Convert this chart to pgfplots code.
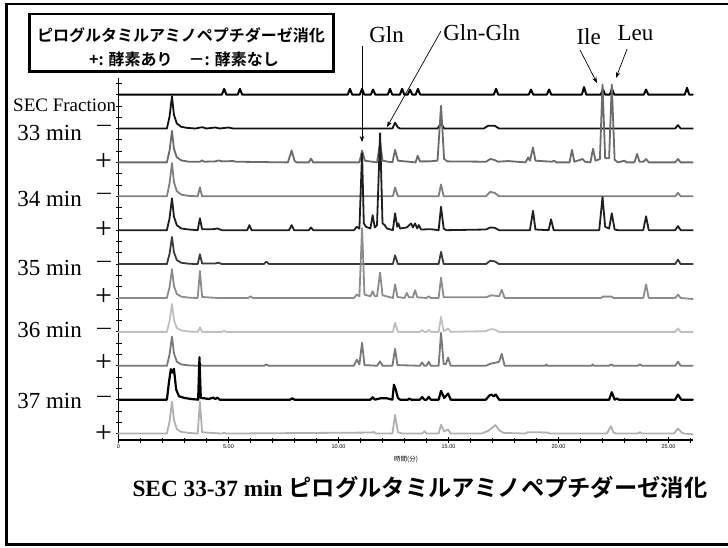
\documentclass[border=0pt]{standalone}
\usepackage{fontspec}
\usepackage{graphicx}
\setmainfont{Liberation Serif}
\newfontfamily\cjk{Noto Sans CJK JP}[BoldFont={* Bold}]
\newfontfamily\tickfont{Liberation Sans}
\usepackage{pgfplots}
\pgfplotsset{compat=1.18}
\usetikzlibrary{arrows.meta}

\definecolor{cstd}{HTML}{000000}
\definecolor{cAm}{HTML}{111111}
\definecolor{cAp}{HTML}{6B6B6B}
\definecolor{cBm}{HTML}{7F7F7F}
\definecolor{cBp}{HTML}{1E1E1E}
\definecolor{cCm}{HTML}{3A3A3A}
\definecolor{cCp}{HTML}{8C8C8C}
\definecolor{cDm}{HTML}{BFBFBF}
\definecolor{cDp}{HTML}{787878}
\definecolor{cEm}{HTML}{000000}
\definecolor{cEp}{HTML}{B0B0B0}

\begin{document}
\begin{tikzpicture}
\path[use as bounding box] (0pt,0pt) rectangle (728pt,547pt);

% outer frame
\draw[line width=2.6pt] (732pt,543pt) -- (6.7pt,543pt) -- (6.7pt,2.5pt) -- (732pt,2.5pt);

% legend box
\draw[line width=2.4pt] (29.3pt,533pt) rectangle (333.3pt,475.3pt);
\node[font=\cjk\bfseries\fontsize{16}{16}\selectfont] at (181pt,512pt) {ピログルタミルアミノペプチダーゼ消化};
\node[font=\cjk\bfseries\fontsize{16}{16}\selectfont] at (184pt,488pt) {+: 酵素あり　－: 酵素なし};

\begin{axis}[
  at={(118.5pt,107pt)}, anchor=south west,
  scale only axis, width=574.2pt, height=362pt,
  xmin=0, xmax=26.1, ymin=-0.19, ymax=10.49,
  axis x line=bottom, axis y line=left,
  axis line style={line width=1.2pt, -},
  xtick={0,5,...,25},
  xticklabels={0,5.00,10.00,15.00,20.00,25.00},
  minor xtick={1,2,3,4,6,7,8,9,11,12,13,14,16,17,18,19,21,22,23,24,26},
  ytick={0,0.33333,...,10.4}, yticklabels={},
  tick align=center,
  major tick length=6pt, minor tick length=5pt,
  tick style={black, line width=0.8pt},
  xticklabel style={font=\tickfont\fontsize{5.5}{6}\selectfont, inner sep=1pt},
  clip=false,
  every axis plot/.append style={mark=none, line join=round, line cap=round, line width=1.8pt},
]

% standard mixture
\addplot[cstd, line width=2pt, y filter/.expression={y+10}] coordinates {
(0,0)(4.7,0)(4.8,0.17)(4.9,0)(5.42,0)(5.52,0.17)(5.62,0)(10.42,0)(10.52,0.17)(10.62,0)(10.97,0)(11.07,0.17)(11.17,0)(11.47,0)(11.57,0.15)(11.67,0)(12.24,0)(12.34,0.17)(12.44,0)(12.79,0)(12.89,0.17)(12.99,0)(13.15,0)(13.25,0.15)(13.35,0)(13.51,0)(13.61,0.17)(13.71,0)(17.06,0)(17.16,0.17)(17.26,0)(18.65,0)(18.75,0.15)(18.85,0)(19.47,0)(19.57,0.15)(19.67,0)(21.06,0)(21.16,0.22)(21.26,0)(21.92,0)(22.02,0.15)(22.12,0)(22.33,0)(22.43,0.17)(22.53,0)(23.88,0)(23.98,0.15)(24.08,0)(25.74,0)(25.84,0.2)(25.94,0)(26.1,0)};

% 33 min, no enzyme
\addplot[cAm, y filter/.expression={y+9}] coordinates {
(0,0)(2.2,0)(2.32,0.35)(2.43,0.95)(2.52,0.4)(2.65,0.15)(2.85,0.05)(3.1,0.02)(3.5,0)(3.8,0.04)(4.0,0)(4.4,0.03)(4.6,0)(5.0,0.03)(5.2,0)(12.45,0)(12.57,0.17)(12.7,0.03)(12.8,0)(14.5,0)(14.66,0.15)(14.8,0)(16.6,0)(16.8,0.08)(17.1,0.08)(17.3,0)(25.3,0)(25.43,0.1)(25.55,0)(26.1,0)};

% 33 min, enzyme
\addplot[cAp, y filter/.expression={y+8}] coordinates {
(0,0)(2.2,0)(2.32,0.35)(2.43,0.93)(2.52,0.4)(2.65,0.15)(2.85,0.06)(3.2,0.02)(3.7,0.02)(3.8,0.06)(3.9,0.02)(4.4,0.03)(4.55,0.06)(4.7,0.03)(5.2,0.04)(5.35,0.02)(7.7,0)(7.87,0.35)(8.0,0.05)(8.1,0)(8.65,0)(8.75,0.11)(8.85,0)(10.95,0)(11.07,0.35)(11.2,0.05)(11.75,0)(11.89,0.6)(12.0,0.05)(12.45,0)(12.57,0.37)(12.7,0.05)(13.5,0)(13.6,0.2)(13.7,0.03)(14.1,0.03)(14.5,0.05)(14.66,1.67)(14.8,0.1)(14.95,0.03)(16.7,0.02)(16.9,0.1)(17.1,0.07)(17.25,0.02)(17.7,0.04)(18.5,0)(18.62,0.15)(18.7,0.05)(18.84,0.44)(18.95,0.05)(19.7,0.02)(19.8,0.05)(19.9,0)(20.5,0)(20.61,0.37)(20.72,0.02)(21.1,0.1)(21.2,0.02)(21.45,0)(21.57,0.4)(21.68,0.05)(21.88,0.1)(22.0,2.3)(22.12,0.12)(22.3,0.12)(22.42,2.3)(22.55,0.08)(22.7,0)(23.0,0.05)(23.1,0)(23.45,0)(23.57,0.25)(23.68,0.02)(23.85,0.02)(23.98,0.1)(24.1,0)(25.3,0)(25.43,0.1)(25.55,0)(26.1,0)};

% 34 min, no enzyme
\addplot[cBm, y filter/.expression={y+7}] coordinates {
(0,0)(2.2,0)(2.32,0.38)(2.43,0.98)(2.52,0.42)(2.65,0.15)(2.85,0.05)(3.2,0.01)(3.6,0)(3.7,0.26)(3.8,0)(12.47,0)(12.57,0.26)(12.7,0)(14.55,0)(14.66,0.35)(14.78,0)(16.7,0)(16.9,0.13)(17.1,0.1)(17.3,0)(25.3,0)(25.43,0.1)(25.55,0)(26.1,0)};

% 34 min, enzyme
\addplot[cBp, y filter/.expression={y+6}] coordinates {
(0,0)(2.2,0)(2.32,0.35)(2.43,0.94)(2.52,0.4)(2.65,0.15)(2.85,0.05)(3.2,0.02)(3.6,0)(3.7,0.35)(3.8,0.03)(4.3,0.03)(4.5,0.05)(4.7,0)(5.85,0)(5.95,0.15)(6.05,0)(7.75,0)(7.87,0.15)(7.98,0)(8.65,0)(8.75,0.08)(8.85,0)(10.7,0)(10.83,0.1)(10.95,0.05)(11.07,2.27)(11.15,0.2)(11.25,0.1)(11.45,0.05)(11.55,0.44)(11.65,0.08)(11.75,0.15)(11.89,2.86)(12.0,0.2)(12.1,0.15)(12.2,0.05)(12.47,0)(12.57,0.5)(12.67,0.1)(12.72,0.2)(12.8,0.05)(13.1,0.08)(13.3,0.2)(13.38,0.08)(13.48,0.2)(13.58,0.05)(13.65,0.15)(13.75,0.02)(14.2,0.03)(14.55,0)(14.66,0.69)(14.78,0.05)(14.9,0)(16.7,0.02)(16.9,0.08)(17.1,0.07)(17.3,0)(18.7,0)(18.84,0.57)(18.95,0.02)(19.55,0)(19.66,0.32)(19.78,0)(21.85,0)(22.0,0.98)(22.12,0.1)(22.3,0.05)(22.42,0.5)(22.55,0.02)(22.7,0)(23.85,0)(23.98,0.41)(24.1,0)(25.3,0)(25.43,0.12)(25.55,0)(26.1,0)};

% 35 min, no enzyme
\addplot[cCm, y filter/.expression={y+5}] coordinates {
(0,0)(2.2,0)(2.32,0.3)(2.43,0.8)(2.52,0.35)(2.65,0.12)(2.85,0.04)(3.2,0.01)(3.6,0)(3.7,0.29)(3.8,0.02)(4.4,0.02)(4.55,0.04)(4.7,0)(6.6,0)(6.72,0.07)(6.85,0)(12.47,0)(12.57,0.26)(12.7,0)(14.55,0)(14.66,0.36)(14.78,0)(16.7,0)(16.9,0.1)(17.1,0.08)(17.3,0)(25.3,0)(25.43,0.13)(25.55,0)(26.1,0)};

% 35 min, enzyme
\addplot[cCp, y filter/.expression={y+4}] coordinates {
(0,0)(2.2,0)(2.32,0.32)(2.43,0.85)(2.52,0.35)(2.65,0.12)(2.85,0.04)(3.2,0.01)(3.6,0)(3.7,0.8)(3.8,0.03)(4.5,0)(5.9,0)(6.0,0.05)(6.1,0)(10.7,0)(10.83,0.1)(10.95,0.05)(11.07,2.06)(11.18,0.1)(11.45,0.05)(11.55,0.2)(11.65,0.05)(11.75,0.05)(11.89,0.75)(12.0,0.08)(12.47,0)(12.57,0.4)(12.68,0.03)(13.0,0)(13.1,0.15)(13.2,0.02)(13.38,0.02)(13.48,0.23)(13.58,0.02)(14.0,0)(14.1,0.05)(14.2,0)(14.55,0)(14.66,0.6)(14.78,0.02)(16.7,0.02)(16.95,0.08)(17.3,0.05)(17.42,0.24)(17.55,0)(21.95,0)(22.0,0.04)(22.42,0.04)(22.5,0)(23.85,0)(23.98,0.4)(24.1,0)(25.3,0)(25.43,0.1)(25.55,0)(26.1,-0.03)};

% 36 min, no enzyme
\addplot[cDm, y filter/.expression={y+3}] coordinates {
(0,0)(2.2,0)(2.32,0.32)(2.43,0.82)(2.52,0.35)(2.65,0.12)(2.85,0.04)(3.2,0.01)(3.6,0)(3.7,0.13)(3.8,0)(4.7,0)(4.8,0.03)(4.9,0)(12.47,0)(12.57,0.27)(12.7,0)(13.7,0)(13.8,0.05)(13.9,0)(14.0,0)(14.1,0.05)(14.2,0)(14.55,0)(14.66,0.44)(14.78,0.02)(14.98,0.1)(15.1,0)(16.7,0.02)(16.9,0.08)(17.1,0.07)(17.3,0)(25.3,0)(25.43,0.1)(25.55,0)(26.1,0)};

% 36 min, enzyme
\addplot[cDp, y filter/.expression={y+2}] coordinates {
(0,0)(2.2,0)(2.32,0.33)(2.43,0.86)(2.52,0.37)(2.65,0.12)(2.85,0.04)(3.2,0.01)(3.6,0)(3.7,0.05)(3.8,0)(6.62,0)(6.72,0.04)(6.82,0)(10.7,0)(10.83,0.18)(10.95,0.04)(11.07,0.68)(11.18,0.02)(11.75,0)(11.89,0.13)(12.0,0)(12.45,0)(12.57,0.5)(12.68,0.02)(13.7,0)(13.8,0.1)(13.9,0)(14.0,0)(14.1,0.12)(14.2,0)(14.55,0)(14.66,0.97)(14.78,0.05)(14.88,0.05)(14.98,0.24)(15.1,0)(16.7,0)(16.9,0.06)(17.2,0.1)(17.3,0.12)(17.42,0.35)(17.55,0)(19.4,0)(19.45,0.04)(19.5,0)(21.5,0)(21.55,0.04)(21.6,0)(22.3,0)(22.4,0.04)(22.5,0)(23.6,0)(23.7,0.04)(23.8,0)(25.3,0)(25.43,0.12)(25.55,0)(26.1,0)};

% 37 min, no enzyme
\addplot[cEm, line width=2.2pt, y filter/.expression={y+1}] coordinates {
(0,0)(2.2,0)(2.3,0.55)(2.38,0.9)(2.45,0.8)(2.52,0.91)(2.62,0.3)(2.75,0.1)(3.0,0.05)(3.3,0.02)(3.62,0)(3.68,1.25)(3.74,0.05)(3.9,0.04)(4.1,0.02)(4.3,0.06)(4.4,0.02)(4.5,0.06)(4.6,0)(7.8,0)(7.9,0.04)(8.0,0)(11.45,0)(11.55,0.07)(11.65,0)(11.9,0.04)(12.2,0.04)(12.45,0)(12.52,0.44)(12.6,0.3)(12.7,0.05)(12.8,0)(13.15,0)(13.22,0.03)(13.3,0)(13.7,0)(13.8,0.08)(13.9,0)(14.0,0)(14.1,0.08)(14.2,0)(14.55,0)(14.66,0.26)(14.8,0.05)(14.98,0.18)(15.1,0)(16.7,0)(16.85,0.12)(16.95,0.15)(17.05,0.1)(17.15,0.15)(17.3,0)(22.3,0)(22.42,0.22)(22.55,0)(22.65,0.03)(22.75,0)(25.3,0)(25.43,0.15)(25.58,0)(26.1,0)};

% 37 min, enzyme
\addplot[cEp, y filter/.expression={y+0}] coordinates {
(0,0)(2.2,0)(2.32,0.35)(2.43,0.94)(2.52,0.4)(2.65,0.13)(2.85,0.05)(3.2,0.02)(3.6,0)(3.7,0.94)(3.8,0.04)(4.2,0.02)(4.7,0)(4.8,0.02)(4.9,0)(11.5,0.03)(11.6,0.05)(11.7,0)(12.45,0)(12.57,0.55)(12.7,0.04)(12.9,0)(13.8,0)(13.9,0.07)(14.0,0)(14.55,0)(14.66,0.26)(14.8,0.06)(14.98,0.12)(15.1,0)(16.5,0)(16.8,0.08)(17.0,0.18)(17.13,0.25)(17.3,0.1)(17.5,0.02)(18.5,0)(18.6,0.04)(19.0,0.04)(19.5,0.03)(19.6,0)(22.2,0)(22.38,0.22)(22.5,0.03)(22.6,0)(23.6,0)(23.7,0.04)(23.8,0)(25.25,0)(25.43,0.15)(25.6,0.03)(25.7,0)(26.1,-0.02)};
\end{axis}

% x axis title
\node[font=\cjk\fontsize{6.5}{7}\selectfont] at (406pt,88pt) {時間(分)};

% fraction labels
\node[anchor=base west, font=\fontsize{19}{20}\selectfont, inner sep=0pt] at (13pt,435pt) {SEC Fraction};
\foreach \lab/\yb in {33/406,34/340,35/272,36/210,37/139}
  \node[anchor=base east, font=\fontsize{23}{24}\selectfont, inner sep=0pt] at (82pt,\yb pt) {\lab\ min};
\foreach \yc in {417.3,349.3,282,215,147}
  \node[font=\fontsize{23}{23}\selectfont, inner sep=0pt] at (104pt,\yc pt) {\scalebox{1.3}[1]{−}};
\foreach \yc in {384.5,317,250,184,113}
  \node[font=\fontsize{30}{30}\selectfont, inner sep=0pt] at (103.5pt,\yc pt) {+};

% peak annotations
\begin{scope}[font=\fontsize{23}{24}\selectfont]
\node[anchor=base, inner sep=0pt] at (386.5pt,504pt) {Gln};
\node[anchor=base, inner sep=0pt] at (481.7pt,506pt) {Gln-Gln};
\node[anchor=base, inner sep=0pt] at (588.7pt,502pt) {Ile};
\node[anchor=base, inner sep=0pt] at (635.5pt,506pt) {Leu};
\end{scope}
\begin{scope}[line width=0.7pt, -{Stealth[length=6pt,width=4.5pt]}]
\draw (362pt,501pt) -- (362pt,405pt);
\draw (441pt,516pt) -- (387pt,420pt);
\draw (580pt,497pt) -- (597pt,464pt);
\draw (627pt,498pt) -- (616pt,469pt);
\end{scope}

% chart title
\node at (420pt,60pt) {\fontsize{23.3}{24}\selectfont\bfseries SEC 33-37 min {\cjk ピログルタミルアミノペプチダーゼ消化}};
\end{tikzpicture}
\end{document}
